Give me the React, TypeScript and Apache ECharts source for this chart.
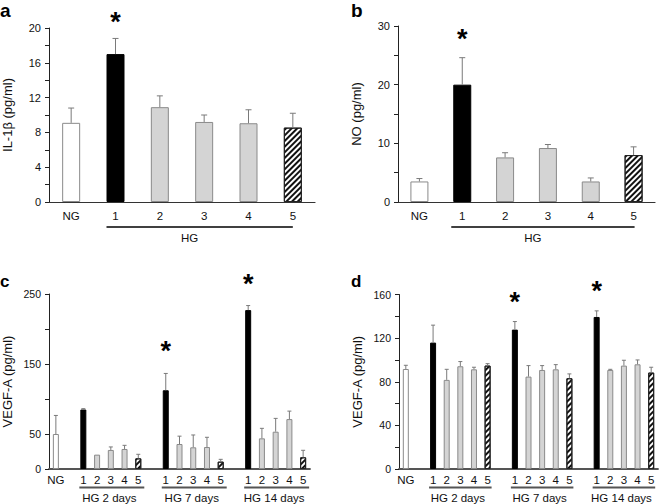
import React, { useEffect, useRef } from "react";
import * as echarts from "echarts";

// ---------- data ----------
const catsAB = ["NG", "1", "2", "3", "4", "5"];
const il1b = [9.1, 17.0, 10.9, 9.2, 9.05, 8.55];
const il1bSD = [1.7, 1.8, 1.3, 0.8, 1.55, 1.65];
const no = [3.5, 20.0, 7.6, 9.2, 3.5, 8.0];
const noSD = [0.5, 4.6, 0.8, 0.6, 0.6, 1.4];
const kindsAB = ["white", "black", "gray", "gray", "gray", "hatch"];
const starsAB = [1];
const groupsAB = [[1, 5]];
const groupLabelsAB = ["HG"];

const catsCD = ["NG", "", "1", "2", "3", "4", "5", "", "1", "2", "3", "4", "5", "", "1", "2", "3", "4", "5"];
const kindsCD = ["white", "", "black", "gray", "gray", "gray", "hatch", "", "black", "gray", "gray", "gray", "hatch", "", "black", "gray", "gray", "gray", "hatch"];
// VEGF-A panel c
const vegfC = [50, null, 85, 20.5, 27.2, 28.6, 15.2, null, 112.5, 35.7, 31, 31.4, 10.5, null, 227, 43.8, 53.3, 71.3, 16.7];
const vegfCSD = [26.5, null, 1.2, 0, 4.3, 5.2, 5.8, null, 24, 11.2, 17.6, 13.9, 3.3, null, 6.5, 14.3, 19, 11.4, 10];
// VEGF-A panel d
const vegfD = [91.7, null, 115.9, 81.7, 94.2, 91.4, 94.8, null, 127.8, 84.7, 90.8, 91.4, 83.2, null, 139.4, 90.8, 94.8, 96, 88.4];
const vegfDSD = [3.4, null, 16, 9.7, 4.3, 1.9, 1.8, null, 7.4, 10.1, 4, 4.3, 4, null, 5.6, 0.6, 4.9, 4, 4.9];
const starsCD = [8, 14];
const groupsCD = [[2, 6], [8, 12], [14, 18]];
const groupLabelsCD = ["HG 2 days", "HG 7 days", "HG 14 days"];
const yTicksCShown = [0, 50, 150, 250];

const FONT = "Liberation Sans, Arial, Helvetica, sans-serif";

function barStyle(kind: string) {
  if (kind === "black") return { color: "#000", borderColor: "#000", borderWidth: 1 };
  if (kind === "gray") return { color: "#d4d4d4", borderColor: "#8a8a8a", borderWidth: 1 };
  if (kind === "hatch")
    return {
      color: "#fff",
      borderColor: "#222",
      borderWidth: 1,
      decal: {
        symbol: "rect",
        symbolSize: 1,
        color: "#111",
        backgroundColor: "#fff",
        dashArrayX: [1, 0],
        dashArrayY: [1.1, 1.9],
        rotation: -Math.PI / 4,
      },
    };
  return { color: "#fff", borderColor: "#8a8a8a", borderWidth: 1 };
}

function barData(vals: (number | null)[], kinds: string[]) {
  return vals.map((v, i) => (v == null ? null : { value: v, itemStyle: barStyle(kinds[i]) }));
}

function errData(vals: (number | null)[], sds: (number | null)[], stars: number[]) {
  const out: any[] = [];
  vals.forEach((v, i) => {
    if (v == null) return;
    out.push([i, v, v + (sds[i] || 0), stars.includes(i) ? 1 : 0]);
  });
  return out;
}

function errSeries(idx: number, data: any[], cap: number, starGap: number) {
  return {
    type: "custom",
    xAxisIndex: idx,
    yAxisIndex: idx,
    z: 5,
    data,
    renderItem: (params: any, api: any) => {
      const x = api.value(0);
      const v = api.value(1);
      const e = api.value(2);
      const star = api.value(3);
      const p0 = api.coord([x, v]);
      const p1 = api.coord([x, e]);
      const children: any[] = [];
      const st = { stroke: "#7a7a7a", lineWidth: 1 };
      if (e > v) {
        children.push({ type: "line", shape: { x1: p0[0], y1: p0[1], x2: p1[0], y2: p1[1] }, style: st });
        children.push({ type: "line", shape: { x1: p1[0] - cap, y1: p1[1], x2: p1[0] + cap, y2: p1[1] }, style: st });
      }
      if (star) {
        children.push({
          type: "text",
          x: p1[0],
          y: p1[1] - starGap,
          style: { text: "*", fill: "#000", font: `bold 27px ${FONT}`, align: "center", verticalAlign: "middle" },
        });
      }
      return { type: "group", children };
    },
  };
}

function groupSeries(
  idx: number,
  groups: number[][],
  labels: string[],
  lineDy: number,
  textDy: number,
  startDx: number,
  endDx: number,
  textDx: number,
  lineColor: string,
  lineW: number
) {
  return {
    type: "custom",
    xAxisIndex: idx,
    yAxisIndex: idx,
    z: 5,
    clip: false,
    data: groups.map((g) => [g[0], 0, g[1]]),
    renderItem: (params: any, api: any) => {
      const s = api.coord([api.value(0), 0]);
      const e = api.coord([api.value(2), 0]);
      const y = s[1];
      const x1 = s[0] + startDx;
      const x2 = e[0] + endDx;
      return {
        type: "group",
        children: [
          { type: "line", shape: { x1, y1: y + lineDy, x2, y2: y + lineDy }, style: { stroke: lineColor, lineWidth: lineW } },
          {
            type: "text",
            x: (x1 + x2) / 2 + textDx,
            y: y + textDy,
            style: { text: labels[params.dataIndex], fill: "#111", font: `11.5px ${FONT}`, align: "center", verticalAlign: "middle" },
          },
        ],
      };
    },
  };
}

function xAxis(idx: number, cats: string[], lineColor: string, lineW: number, margin: number) {
  return {
    type: "category",
    gridIndex: idx,
    data: cats,
    axisLine: { lineStyle: { color: lineColor, width: lineW } },
    axisTick: { show: false },
    axisLabel: { interval: 0, color: "#111", fontSize: 11.5, fontFamily: FONT, margin },
  };
}

function yAxis(idx: number, name: string, max: number, interval: number, minor: boolean, fontSize: number, formatter?: any) {
  return {
    type: "value",
    gridIndex: idx,
    min: 0,
    max,
    interval,
    name,
    nameLocation: "middle",
    nameGap: 35,
    nameTextStyle: { fontSize: 13, fontFamily: FONT, color: "#111" },
    axisLine: { show: true, lineStyle: { color: "#222", width: 1 } },
    axisTick: { show: true, inside: false, length: 4, lineStyle: { color: "#222" } },
    minorTick: { show: minor, splitNumber: 2, length: 4, lineStyle: { color: "#222" } },
    splitLine: { show: false },
    axisLabel: { color: "#111", fontSize, fontFamily: FONT, margin: 8, formatter },
  };
}

export default function App() {
  const ref = useRef<HTMLDivElement>(null);
  useEffect(() => {
    document.body.style.margin = "0";
    const chart = echarts.init(ref.current!, undefined, { renderer: "svg" });
    const option: any = {
      animation: false,
      backgroundColor: "#fff",
      grid: [
        { left: 49, top: 28, width: 266, height: 174 },
        { left: 398, top: 26, width: 257, height: 176 },
        { left: 49, top: 294, width: 261, height: 175 },
        { left: 399, top: 294.5, width: 259, height: 174.5 },
      ],
      xAxis: [
        xAxis(0, catsAB, "#333", 1.2, 8),
        xAxis(1, catsAB, "#333", 1.2, 8),
        xAxis(2, catsCD, "#555", 1.8, 5),
        xAxis(3, catsCD, "#555", 1.8, 5),
      ],
      yAxis: [
        yAxis(0, "IL-1β (pg/ml)", 20, 4, true, 11),
        yAxis(1, "NO (pg/ml)", 30, 10, true, 11),
        yAxis(2, "VEGF-A (pg/ml)", 250, 50, false, 10.5, (v: number) => (yTicksCShown.includes(v) ? String(v) : "")),
        yAxis(3, "VEGF-A (pg/ml)", 160, 40, true, 10.5),
      ],
      graphic: [
        { type: "text", left: 0, top: 1, style: { text: "a", font: `bold 19px ${FONT}`, fill: "#000" } },
        { type: "text", left: 351, top: 1, style: { text: "b", font: `bold 19px ${FONT}`, fill: "#000" } },
        { type: "text", left: 0, top: 273, style: { text: "c", font: `bold 17px ${FONT}`, fill: "#000" } },
        { type: "text", left: 351, top: 273, style: { text: "d", font: `bold 17px ${FONT}`, fill: "#000" } },
      ],
      series: [
        { type: "bar", xAxisIndex: 0, yAxisIndex: 0, barWidth: 18, data: barData(il1b, kindsAB) },
        errSeries(0, errData(il1b, il1bSD, starsAB), 3, 16),
        groupSeries(0, groupsAB, groupLabelsAB, 25, 36, -9, 0, -10, "#000", 1.5),
        { type: "bar", xAxisIndex: 1, yAxisIndex: 1, barWidth: 18, data: barData(no, kindsAB) },
        errSeries(1, errData(no, noSD, starsAB), 3, 19),
        groupSeries(1, groupsAB, groupLabelsAB, 25, 36, -11, 1, -10, "#000", 1.5),
        { type: "bar", xAxisIndex: 2, yAxisIndex: 2, barWidth: 6, data: barData(vegfC, kindsCD) },
        errSeries(2, errData(vegfC, vegfCSD, starsCD), 2, 22),
        groupSeries(2, groupsCD, groupLabelsCD, 18.5, 28.5, -4, 6, -2.5, "#555", 2),
        { type: "bar", xAxisIndex: 3, yAxisIndex: 3, barWidth: 6, data: barData(vegfD, kindsCD) },
        errSeries(3, errData(vegfD, vegfDSD, starsCD), 2, 20),
        groupSeries(3, groupsCD, groupLabelsCD, 18.5, 28.5, -4, 4, -2.5, "#555", 2),
      ],
    };
    chart.setOption(option);
    return () => chart.dispose();
  }, []);
  return <div ref={ref} style={{ width: 661, height: 504 }} />;
}
